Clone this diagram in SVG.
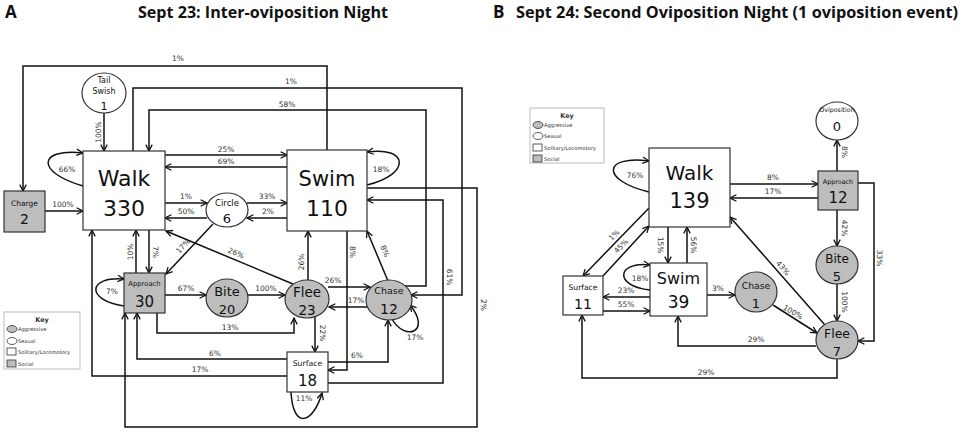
<svg xmlns="http://www.w3.org/2000/svg" width="963" height="432" viewBox="0 0 963 432">
<style>
.ln{fill:none;stroke:#111;stroke-width:1.5;marker-end:url(#ah)}
.nd{fill:#fff;stroke:#333;stroke-width:1.2}
.gr{fill:#bdbdbd;stroke:#333;stroke-width:1.2}
.pc{font-family:"DejaVu Sans",sans-serif;font-size:7.5px;fill:#333;text-anchor:middle}
.t{font-family:"DejaVu Sans",sans-serif;fill:#111;text-anchor:middle}
.ttl{font-family:"Open Sans","Liberation Sans",sans-serif;font-weight:bold;fill:#111}
.key{fill:#fff;stroke:#bbb;stroke-width:1}
.kt{font-family:"DejaVu Sans",sans-serif;font-size:5.2px;fill:#333}
.kh{font-family:"DejaVu Sans",sans-serif;font-size:6.5px;font-weight:bold;fill:#333;text-anchor:middle}
.ks{stroke:#333;stroke-width:0.8}
</style>
<defs>
<marker id="ah" viewBox="0 0 10 10" refX="9" refY="5" markerWidth="8" markerHeight="8" markerUnits="userSpaceOnUse" orient="auto">
<path d="M1,1 L9,5 L1,9" fill="none" stroke="#111" stroke-width="1.6"/>
</marker>
</defs>
<rect width="963" height="432" fill="#fff"/>

<text class="ttl" x="5" y="18" font-size="17">A</text>
<text class="ttl" x="138" y="18" font-size="16.5" textLength="250" lengthAdjust="spacingAndGlyphs">Sept 23: Inter-oviposition  Night</text>
<text class="ttl" x="493" y="18" font-size="17">B</text>
<text class="ttl" x="516" y="18" font-size="16.5" textLength="442" lengthAdjust="spacingAndGlyphs">Sept 24: Second Oviposition  Night (1 oviposition  event)</text>

<g id="connectors-A">
<path class="ln" d="M104,113 V151"/>
<path class="ln" d="M327,150 V66 H23 V191"/>
<path class="ln" d="M133,151 V88 H462 V295 H411"/>
<path class="ln" d="M403,286 H426 V110 H149 V151"/>
<path class="ln" d="M165,155 H287"/>
<path class="ln" d="M287,167 H165"/>
<path class="ln" d="M165,203 H207"/>
<path class="ln" d="M207,218 H165"/>
<path class="ln" d="M247,203 H287"/>
<path class="ln" d="M287,218 H247"/>
<path class="ln" d="M45,211 H83"/>
<path class="ln" d="M83,186 C35,172 38,148 83,153"/>
<path class="ln" d="M149,230 V273"/>
<path class="ln" d="M136,273 V230"/>
<path class="ln" d="M213,224 L166,274"/>
<path class="ln" d="M293,284 L166,231"/>
<path class="ln" d="M308,280 V231"/>
<path class="ln" d="M388,281 L367,231"/>
<path class="ln" d="M347,231 V370 H328"/>
<path class="ln" d="M367,185 C412,174 408,146 367,152"/>
<path class="ln" d="M328,383 H443 V200 H367"/>
<path class="ln" d="M367,188 H477 V427 H125 V313"/>
<path class="ln" d="M124,306 C85,300 88,276 124,279"/>
<path class="ln" d="M165,295 H206"/>
<path class="ln" d="M248,295 H285"/>
<path class="ln" d="M328,287 H370"/>
<path class="ln" d="M367,307 H329"/>
<path class="ln" d="M392,319 C405,342 432,332 410,305"/>
<path class="ln" d="M157,313 V333 H294 V318"/>
<path class="ln" d="M315,317 V352"/>
<path class="ln" d="M328,362 H388 V320"/>
<path class="ln" d="M287,359 H137 V313"/>
<path class="ln" d="M287,376 H92 V230"/>
<path class="ln" d="M291,392 C293,430 313,424 322,393"/>
</g>
<g id="labels-A">
<text class="pc" transform="translate(98,132) rotate(-90)" dy="0.35em">100%</text>
<text class="pc" x="178" y="61">1%</text>
<text class="pc" x="291" y="84">1%</text>
<text class="pc" x="287" y="107">58%</text>
<text class="pc" x="226" y="152">25%</text>
<text class="pc" x="226" y="164">69%</text>
<text class="pc" x="186" y="199">1%</text>
<text class="pc" x="186" y="214">50%</text>
<text class="pc" x="267" y="199">33%</text>
<text class="pc" x="268" y="214">2%</text>
<text class="pc" x="63" y="207">100%</text>
<text class="pc" x="67" y="172">66%</text>
<text class="pc" transform="translate(156,252) rotate(90)" dy="0.35em">7%</text>
<text class="pc" transform="translate(130,252) rotate(-90)" dy="0.35em">10%</text>
<text class="pc" transform="translate(183,246) rotate(-47)" dy="0.35em">17%</text>
<text class="pc" transform="translate(236,253) rotate(22)" dy="0.35em">26%</text>
<text class="pc" transform="translate(301,262) rotate(-90)" dy="0.35em">26%</text>
<text class="pc" transform="translate(385,251) rotate(67)" dy="0.35em">8%</text>
<text class="pc" transform="translate(353,252) rotate(90)" dy="0.35em">8%</text>
<text class="pc" x="381" y="172">18%</text>
<text class="pc" transform="translate(450,277) rotate(90)" dy="0.35em">61%</text>
<text class="pc" transform="translate(484,305) rotate(90)" dy="0.35em">2%</text>
<text class="pc" x="112" y="294">7%</text>
<text class="pc" x="186" y="291">67%</text>
<text class="pc" x="266" y="291">100%</text>
<text class="pc" x="333" y="283">26%</text>
<text class="pc" x="356" y="303">17%</text>
<text class="pc" x="415" y="340">17%</text>
<text class="pc" x="230" y="330">13%</text>
<text class="pc" transform="translate(323,333) rotate(90)" dy="0.35em">22%</text>
<text class="pc" x="357" y="358">6%</text>
<text class="pc" x="215" y="356">6%</text>
<text class="pc" x="200" y="372">17%</text>
<text class="pc" x="304" y="401">11%</text>
</g>

<g id="A-tailswish"><ellipse class="nd" cx="104" cy="93" rx="22" ry="20"/><text class="t" x="104" y="83" font-size="8">Tail</text><text class="t" x="104" y="94" font-size="8">Swish</text><text class="t" x="104" y="110" font-size="11">1</text></g>
<g id="A-walk"><rect class="nd" x="83" y="151" width="82" height="79"/><text class="t" x="124" y="186" font-size="22">Walk</text><text class="t" x="124" y="216" font-size="22">330</text></g>
<g id="A-swim"><rect class="nd" x="287" y="150" width="80" height="81"/><text class="t" x="327" y="186" font-size="21">Swim</text><text class="t" x="327" y="216" font-size="22">110</text></g>
<g id="A-charge"><rect class="gr" x="4" y="191" width="41" height="41"/><text class="t" x="24.5" y="206" font-size="7.5">Charge</text><text class="t" x="24.5" y="224" font-size="14">2</text></g>
<g id="A-circle"><ellipse class="nd" cx="227" cy="210" rx="21" ry="17"/><text class="t" x="227" y="206" font-size="8.5">Circle</text><text class="t" x="227" y="223" font-size="13">6</text></g>
<g id="A-approach"><rect class="gr" x="124" y="273" width="41" height="40"/><text class="t" x="144.5" y="286" font-size="6.8">Approach</text><text class="t" x="144.5" y="307" font-size="15">30</text></g>
<g id="A-bite"><ellipse class="gr" cx="227" cy="298" rx="21" ry="19"/><text class="t" x="227" y="296" font-size="13">Bite</text><text class="t" x="227" y="314" font-size="13">20</text></g>
<g id="A-flee"><ellipse class="gr" cx="307" cy="299" rx="22" ry="19"/><text class="t" x="307" y="297" font-size="13.5">Flee</text><text class="t" x="307" y="315" font-size="13.5">23</text></g>
<g id="A-chase"><ellipse class="gr" cx="389" cy="300" rx="23" ry="20"/><text class="t" x="389" y="294" font-size="9.5">Chase</text><text class="t" x="389" y="314" font-size="14">12</text></g>
<g id="A-surface"><rect class="nd" x="287" y="352" width="41" height="40"/><text class="t" x="307.5" y="366" font-size="7.8">Surface</text><text class="t" x="307.5" y="386" font-size="15">18</text></g>

<g id="A-key">
<rect class="key" x="4" y="312" width="76" height="57"/>
<text class="kh" x="42" y="322">Key</text>
<ellipse class="ks" cx="12" cy="329" rx="5" ry="3.5" fill="#bdbdbd"/><text class="kt" x="18" y="331">Aggressive</text>
<ellipse class="ks" cx="12" cy="341" rx="5" ry="3.5" fill="#fff"/><text class="kt" x="18" y="343">Sexual</text>
<rect class="ks" x="7" y="348" width="9" height="7" fill="#fff"/><text class="kt" x="18" y="354">Solitary/Locomotory</text>
<rect class="ks" x="7" y="360" width="9" height="7" fill="#bdbdbd"/><text class="kt" x="18" y="366">Social</text>
</g>

<g id="connectors-B">
<path class="ln" d="M649,192 C600,180 603,155 649,161"/>
<path class="ln" d="M730,184 H818"/>
<path class="ln" d="M818,198 H730"/>
<path class="ln" d="M837,171 V140"/>
<path class="ln" d="M837,210 V246"/>
<path class="ln" d="M837,284 V321"/>
<path class="ln" d="M858,183 H874 V341 H858"/>
<path class="ln" d="M825,325 L730,217"/>
<path class="ln" d="M649,208 L583,276"/>
<path class="ln" d="M603,276 L649,226"/>
<path class="ln" d="M668,227 V263"/>
<path class="ln" d="M687,263 V227"/>
<path class="ln" d="M650,290 C613,286 617,261 650,265"/>
<path class="ln" d="M650,297 H603"/>
<path class="ln" d="M603,311 H650"/>
<path class="ln" d="M707,295 H735"/>
<path class="ln" d="M773,305 L817,333"/>
<path class="ln" d="M816,346 H678 V316"/>
<path class="ln" d="M837,359 V378 H582 V315"/>
</g>
<g id="labels-B">
<text class="pc" x="635" y="178">76%</text>
<text class="pc" x="773" y="180">8%</text>
<text class="pc" x="773" y="194">17%</text>
<text class="pc" transform="translate(845,152) rotate(90)" dy="0.35em">8%</text>
<text class="pc" transform="translate(845,228) rotate(90)" dy="0.35em">42%</text>
<text class="pc" transform="translate(845,302) rotate(90)" dy="0.35em">100%</text>
<text class="pc" transform="translate(880,258) rotate(90)" dy="0.35em">33%</text>
<text class="pc" transform="translate(783,268) rotate(49)" dy="0.35em">43%</text>
<text class="pc" transform="translate(614,235) rotate(-46)" dy="0.35em">1%</text>
<text class="pc" transform="translate(621,246) rotate(-46)" dy="0.35em">45%</text>
<text class="pc" transform="translate(661,245) rotate(90)" dy="0.35em">15%</text>
<text class="pc" transform="translate(694,245) rotate(90)" dy="0.35em">56%</text>
<text class="pc" x="640" y="281">18%</text>
<text class="pc" x="626" y="293">23%</text>
<text class="pc" x="626" y="307">55%</text>
<text class="pc" x="718" y="291">3%</text>
<text class="pc" transform="translate(793,312) rotate(30)" dy="0.35em">100%</text>
<text class="pc" x="756" y="342">29%</text>
<text class="pc" x="706" y="375">29%</text>
</g>

<g id="B-walk"><rect class="nd" x="649" y="148" width="81" height="79"/><text class="t" x="689.5" y="180" font-size="20">Walk</text><text class="t" x="689.5" y="208" font-size="21">139</text></g>
<g id="B-oviposition"><ellipse class="nd" cx="837" cy="121" rx="21" ry="19"/><text class="t" x="837" y="112" font-size="6.3">Oviposition</text><text class="t" x="837" y="131" font-size="13">0</text></g>
<g id="B-approach"><rect class="gr" x="818" y="171" width="40" height="39"/><text class="t" x="838" y="184" font-size="6.4">Approach</text><text class="t" x="838" y="203" font-size="15">12</text></g>
<g id="B-bite"><ellipse class="gr" cx="837" cy="265" rx="21" ry="19"/><text class="t" x="837" y="263" font-size="12">Bite</text><text class="t" x="837" y="281" font-size="13">5</text></g>
<g id="B-flee"><ellipse class="gr" cx="837" cy="340" rx="21" ry="19"/><text class="t" x="837" y="338" font-size="12.5">Flee</text><text class="t" x="837" y="356" font-size="13">7</text></g>
<g id="B-surface"><rect class="nd" x="563" y="276" width="40" height="39"/><text class="t" x="583" y="290" font-size="7.6">Surface</text><text class="t" x="583" y="309" font-size="14">11</text></g>
<g id="B-swim"><rect class="nd" x="650" y="263" width="57" height="53"/><text class="t" x="678.5" y="284" font-size="16">Swim</text><text class="t" x="678.5" y="308" font-size="17">39</text></g>
<g id="B-chase"><ellipse class="gr" cx="756" cy="292" rx="21" ry="20"/><text class="t" x="756" y="289" font-size="9.3">Chase</text><text class="t" x="756" y="308" font-size="13">1</text></g>

<g id="B-key">
<rect class="key" x="530" y="108" width="74" height="55"/>
<text class="kh" x="567" y="118">Key</text>
<ellipse class="ks" cx="538" cy="125" rx="5" ry="3.5" fill="#bdbdbd"/><text class="kt" x="544" y="127">Aggressive</text>
<ellipse class="ks" cx="538" cy="136" rx="5" ry="3.5" fill="#fff"/><text class="kt" x="544" y="138">Sexual</text>
<rect class="ks" x="533" y="144" width="9" height="7" fill="#fff"/><text class="kt" x="544" y="150">Solitary/Locomotory</text>
<rect class="ks" x="533" y="155" width="9" height="7" fill="#bdbdbd"/><text class="kt" x="544" y="161">Social</text>
</g>
</svg>
